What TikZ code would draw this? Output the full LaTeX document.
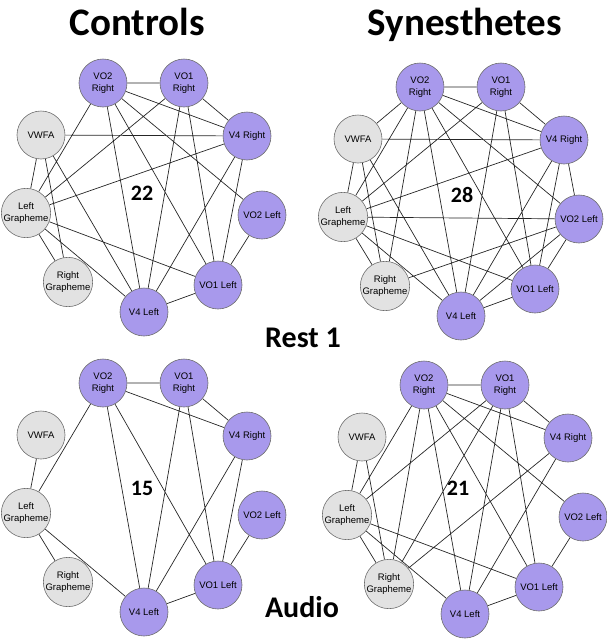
\documentclass[tikz,border=0pt]{standalone}
\usepackage{fontspec}
\setmainfont{Liberation Sans}
\newfontfamily\calibri{Carlito}
\usepackage{tikz}
\pgfdeclarelayer{bg}
\pgfsetlayers{bg,main}

\definecolor{roipurple}{RGB}{168,153,236}
\definecolor{roigray}{RGB}{226,226,226}
\definecolor{roiline}{RGB}{110,110,110}

\tikzset{
  roi/.style={circle, draw=roiline, line width=0.6pt, minimum size=48pt, inner sep=0pt,
              align=center, font=\fontsize{9.5}{12}\selectfont},
  vis/.style={roi, fill=roipurple},
  gra/.style={roi, fill=roigray},
  edge/.style={line width=0.7pt, black!85},
  count/.style={anchor=base, font=\calibri\bfseries\fontsize{22}{22}\selectfont},
  head/.style={anchor=base, font=\calibri\bfseries\fontsize{39}{39}\selectfont},
  cond/.style={anchor=base, font=\calibri\bfseries\fontsize{30}{30}\selectfont}
}

\begin{document}
\begin{tikzpicture}[x=1pt, y=-1pt]
\useasboundingbox (0,0) rectangle (607,640);

\node[head] (controls) at (137,35) {Controls};
\node[head] (synesth) at (465,35) {Synesthetes};
\node[cond] (rest) at (303,347) {Rest 1};
\node[cond] (audio) at (302,617) {Audio};

\begin{scope}[shift={(0,0)}, name prefix=cr-]
\node[vis] (vo2r) at (103,83) {VO2\\Right};
\node[vis] (vo1r) at (184,83) {VO1\\Right};
\node[vis] (v4r) at (247,136) {V4 Right};
\node[vis] (vo2l) at (262,215) {VO2 Left};
\node[vis] (vo1l) at (218,285) {VO1 Left};
\node[vis] (v4l) at (144,312) {V4 Left};
\node[gra] (rg) at (68,282) {Right\\Grapheme};
\node[gra] (lg) at (26,213) {Left\\Grapheme};
\node[gra] (vwfa) at (41,135) {VWFA};
\node[count] (n) at (142,200) {22};
\begin{pgfonlayer}{bg}
\draw[edge] (vo2r) -- (vo1r) (vo2r) -- (v4r) (vo1r) -- (v4r) (vwfa) -- (v4r)
  (vo2r) -- (lg) (vo1r) -- (lg) (lg) -- (v4r) (vwfa) -- (lg) (vwfa) -- (rg)
  (vwfa) -- (v4l) (lg) -- (rg) (lg) -- (v4l) (lg) -- (vo1l) (vo2r) -- (v4l)
  (vo2r) -- (vo1l) (vo2r) -- (vo2l) (vo1r) -- (v4l) (vo1r) -- (vo1l)
  (v4r) -- (v4l) (v4r) -- (vo1l) (vo2l) -- (vo1l) (v4l) -- (vo1l);
\end{pgfonlayer}
\end{scope}

\begin{scope}[shift={(317,4)}, name prefix=sr-]
\node[vis] (vo2r) at (103,83) {VO2\\Right};
\node[vis] (vo1r) at (184,83) {VO1\\Right};
\node[vis] (v4r) at (247,136) {V4 Right};
\node[vis] (vo2l) at (262,215) {VO2 Left};
\node[vis] (vo1l) at (218,285) {VO1 Left};
\node[vis] (v4l) at (144,312) {V4 Left};
\node[gra] (rg) at (68,282) {Right\\Grapheme};
\node[gra] (lg) at (26,213) {Left\\Grapheme};
\node[gra] (vwfa) at (41,135) {VWFA};
\node[count] (n) at (145,198) {28};
\begin{pgfonlayer}{bg}
\draw[edge] (vo2r) -- (vo1r) (vo2r) -- (v4r) (vo1r) -- (v4r) (vo2r) -- (vwfa)
  (vwfa) -- (v4r) (vo2r) -- (lg) (vo2r) -- (rg) (vo2r) -- (v4l) (vo2r) -- (vo1l)
  (vo2r) -- (vo2l) (vo1r) -- (lg) (vo1r) -- (v4l) (vo1r) -- (vo1l) (lg) -- (v4r)
  (lg) -- (vo2l) (lg) -- (vo1l) (lg) -- (v4l) (lg) -- (rg) (vwfa) -- (lg)
  (vwfa) -- (rg) (vwfa) -- (v4l) (rg) -- (vo2l) (v4r) -- (v4l) (v4r) -- (vo1l)
  (v4r) -- (vo2l) (vo2l) -- (vo1l) (vo2l) -- (v4l) (v4l) -- (vo1l);
\end{pgfonlayer}
\end{scope}

\begin{scope}[shift={(0,300)}, name prefix=ca-]
\node[vis] (vo2r) at (103,83) {VO2\\Right};
\node[vis] (vo1r) at (184,83) {VO1\\Right};
\node[vis] (v4r) at (247,136) {V4 Right};
\node[vis] (vo2l) at (262,215) {VO2 Left};
\node[vis] (vo1l) at (218,285) {VO1 Left};
\node[vis] (v4l) at (144,312) {V4 Left};
\node[gra] (rg) at (68,282) {Right\\Grapheme};
\node[gra] (lg) at (26,213) {Left\\Grapheme};
\node[gra] (vwfa) at (41,135) {VWFA};
\node[count] (n) at (142,195) {15};
\begin{pgfonlayer}{bg}
\draw[edge] (vo2r) -- (vo1r) (vo2r) -- (v4r) (vo1r) -- (v4r) (vwfa) -- (lg)
  (vo2r) -- (lg) (lg) -- (rg) (lg) -- (v4l) (vo2r) -- (v4l) (vo2r) -- (vo1l)
  (vo1r) -- (v4l) (vo1r) -- (vo1l) (v4r) -- (v4l) (v4r) -- (vo1l)
  (vo2l) -- (vo1l) (v4l) -- (vo1l);
\end{pgfonlayer}
\end{scope}

\begin{scope}[shift={(321,302)}, name prefix=sa-]
\node[vis] (vo2r) at (103,83) {VO2\\Right};
\node[vis] (vo1r) at (184,83) {VO1\\Right};
\node[vis] (v4r) at (247,136) {V4 Right};
\node[vis] (vo2l) at (262,215) {VO2 Left};
\node[vis] (vo1l) at (218,285) {VO1 Left};
\node[vis] (v4l) at (144,312) {V4 Left};
\node[gra] (rg) at (68,282) {Right\\Grapheme};
\node[gra] (lg) at (26,213) {Left\\Grapheme};
\node[gra] (vwfa) at (41,135) {VWFA};
\node[count] (n) at (137,193) {21};
\begin{pgfonlayer}{bg}
\draw[edge] (vo2r) -- (vo1r) (vo2r) -- (v4r) (vo1r) -- (v4r) (vwfa) -- (lg)
  (vwfa) -- (rg) (vo2r) -- (lg) (vo2r) -- (rg) (vo2r) -- (v4l) (vo2r) -- (vo1l)
  (vo2r) -- (vo2l) (vo1r) -- (lg) (vo1r) -- (rg) (vo1r) -- (v4l) (vo1r) -- (vo1l)
  (v4r) -- (rg) (v4r) -- (v4l) (lg) -- (rg) (lg) -- (v4l) (lg) -- (vo1l)
  (vo2l) -- (vo1l) (v4l) -- (vo1l);
\end{pgfonlayer}
\end{scope}
\end{tikzpicture}
\end{document}
